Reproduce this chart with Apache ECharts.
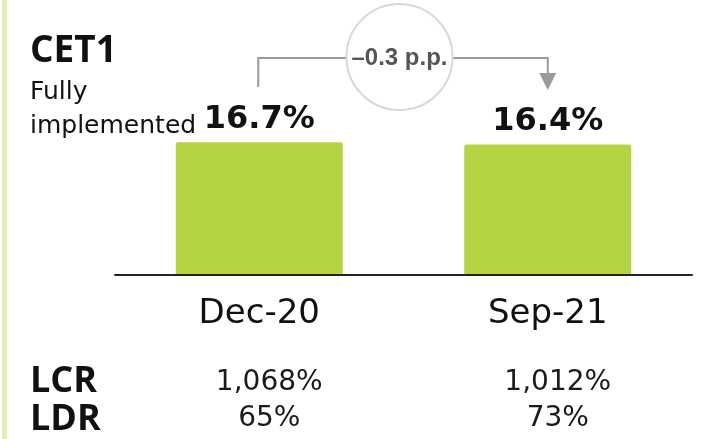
<!DOCTYPE html>
<html><head><meta charset="utf-8">
<script src="https://cdn.jsdelivr.net/npm/echarts@6/dist/echarts.min.js"></script>
<style>html,body{margin:0;padding:0;background:#fff}#c{width:701px;height:439px}</style>
</head><body><div id="c"></div>
<script>
const categories = ['Dec-20', 'Sep-21'];
const cet1Values = [16.7, 16.4];
const lcrLabels = ['1,068%', '1,012%'];
const ldrLabels = ['65%', '73%'];
const rowNames = ['LCR', 'LDR'];
const titleText = 'CET1';
const subtitleLines = ['Fully', 'implemented'];

const regular = 'DejaVu Sans';
const chart = echarts.init(document.getElementById('c'), null, {renderer: 'canvas'});

const valueAxis = (data, margin) => ({
  type: 'category', data: data, position: 'bottom', offset: 0,
  axisLine: {show: false}, axisTick: {show: false}, splitLine: {show: false},
  axisLabel: {fontFamily: regular, fontSize: 28, color: '#1a1a1a', margin: margin,
    verticalAlign: 'middle', padding: [0, 0, 0, 20]}
});

chart.setOption({
  animation: false,
  grid: {left: 115, right: 9, top: 116, bottom: 164},
  xAxis: [
    {type: 'category', data: categories, z: 5,
     axisLine: {lineStyle: {color: '#222', width: 2}}, axisTick: {show: false},
     axisLabel: {fontFamily: regular, fontSize: 34, color: '#111', margin: 39, verticalAlign: 'middle'}},
    valueAxis(lcrLabels, 108),
    valueAxis(ldrLabels, 144)
  ],
  yAxis: {type: 'value', min: 0, max: 20, show: false},
  series: [{
    type: 'bar', data: cet1Values, barWidth: 167, xAxisIndex: 0,
    itemStyle: {color: '#b5d444', borderRadius: [2, 2, 0, 0]},
    label: {show: true, position: 'top', distance: 7,
      formatter: p => p.value.toFixed(1) + '%',
      fontFamily: regular, fontWeight: 'bold', fontSize: 32, color: '#111'}
  }]
});

const p0 = chart.convertToPixel({xAxisIndex: 0, yAxisIndex: 0}, [0, cet1Values[0]]);
const p1 = chart.convertToPixel({xAxisIndex: 0, yAxisIndex: 0}, [1, cet1Values[1]]);
const lineY = 58;
const cx = (p0[0] + p1[0]) / 2 - 4;
const diff = (cet1Values[1] - cet1Values[0]).toFixed(1).replace('-', '\u2013') + ' p.p.';
const grey = '#9a9a9a';

chart.setOption({
  graphic: [
    {type: 'rect', shape: {x: 2, y: 0, width: 5, height: 439}, style: {fill: '#e2ecb9'}},
    {type: 'text', x: 30, y: 51, style: {text: titleText, font: 'bold 37px "Open Sans"', fill: '#111', verticalAlign: 'middle'}},
    {type: 'text', x: 30, y: 92, style: {text: subtitleLines[0], font: '25px "DejaVu Sans"', fill: '#111', verticalAlign: 'middle'}},
    {type: 'text', x: 30, y: 126, style: {text: subtitleLines[1], font: '25px "DejaVu Sans"', fill: '#111', verticalAlign: 'middle'}},
    {type: 'text', x: 30, y: 382, style: {text: rowNames[0], font: 'bold 36px "Open Sans"', fill: '#111', verticalAlign: 'middle'}},
    {type: 'text', x: 30, y: 420, style: {text: rowNames[1], font: 'bold 36px "Open Sans"', fill: '#111', verticalAlign: 'middle'}},
    {type: 'polyline', shape: {points: [[p0[0] - 1, 87], [p0[0] - 1, lineY], [p1[0], lineY], [p1[0], 74]]},
     style: {stroke: grey, lineWidth: 2, fill: null}},
    {type: 'polygon', shape: {points: [[p1[0] - 8.5, 73], [p1[0] + 8.5, 73], [p1[0], 90]]}, style: {fill: grey}},
    {type: 'circle', shape: {cx: cx, cy: 57, r: 53}, style: {fill: '#fff', stroke: '#d8d8d8', lineWidth: 2}},
    {type: 'text', x: cx, y: 58, style: {text: diff, font: 'bold 24px "Liberation Sans"', fill: '#555', align: 'center', verticalAlign: 'middle'}}
  ]
});
</script></body></html>
